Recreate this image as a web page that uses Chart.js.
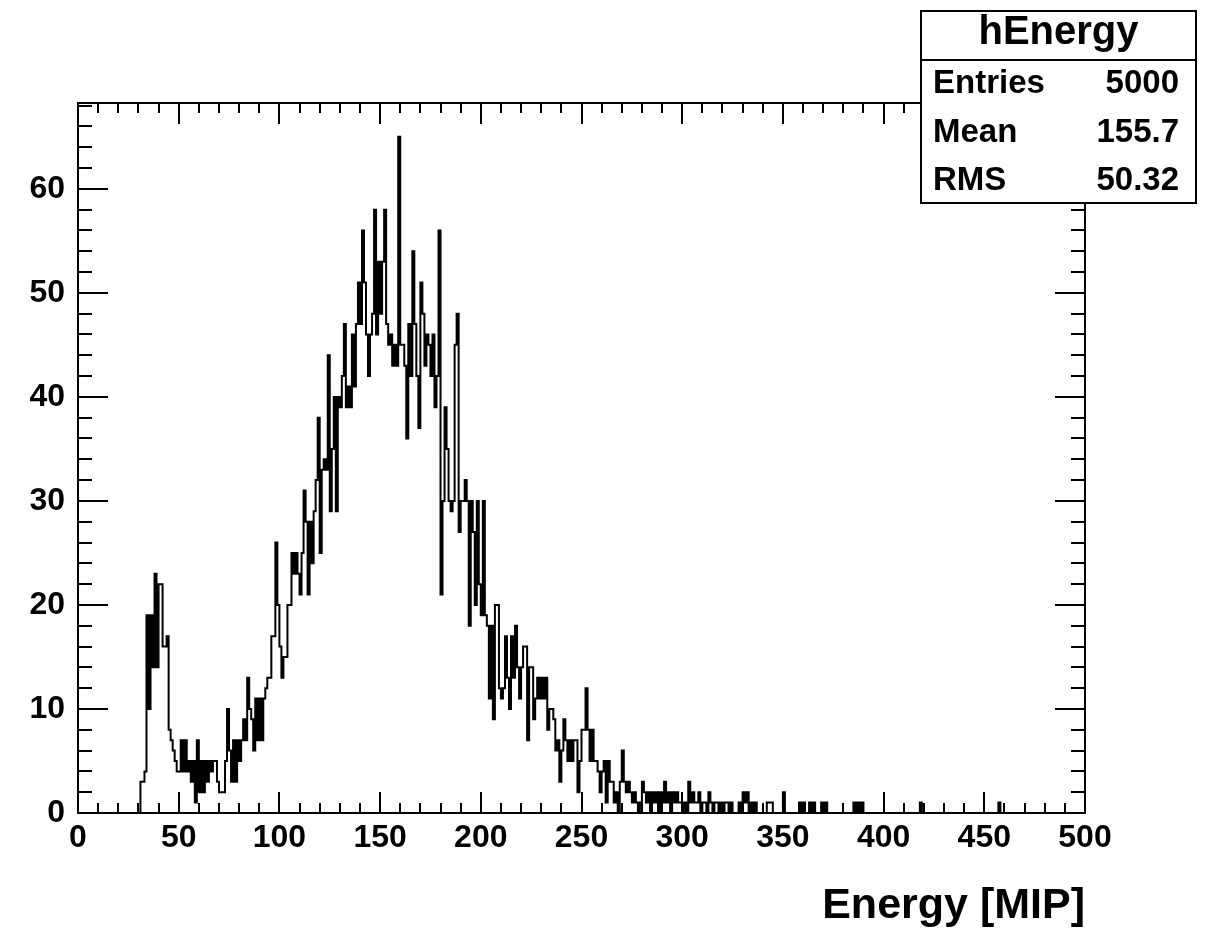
<!DOCTYPE html>
<html>
<head>
<meta charset="utf-8">
<title>hEnergy</title>
<script src="https://cdn.jsdelivr.net/npm/chart.js@4.4.1/dist/chart.umd.min.js"></script>
<style>
    html, body { margin: 0; padding: 0; background: #fff; }
    #wrap { position: relative; width: 1206px; height: 933px; }
</style>
</head>
<body>
<div id="wrap"><canvas id="energyChart"></canvas></div>
<script>
// bin contents of hEnergy, 500 bins of width 1 MIP (0..500)
const binCounts = [
    0, 0, 0, 0, 0, 0, 0, 0, 0, 0,   0, 0, 0, 0, 0, 0, 0, 0, 0, 0,
    0, 0, 0, 0, 0, 0, 0, 0, 0, 0,   0, 0, 3, 3, 4, 19, 10, 19, 14, 23,
    14, 22, 22, 16, 16, 17, 8, 7, 6, 5,   4, 4, 7, 4, 7, 4, 5, 3, 5, 1,
    7, 2, 5, 2, 5, 3, 5, 4, 5, 5,   3, 2, 2, 2, 5, 10, 6, 3, 7, 3,
    7, 5, 7, 9, 7, 13, 10, 9, 6, 11,   7, 11, 7, 11, 12, 13, 13, 17, 17, 26,
    20, 16, 13, 15, 15, 20, 20, 25, 23, 25,   23, 21, 25, 31, 28, 21, 28, 24, 29, 32,
    38, 25, 33, 34, 33, 44, 29, 35, 40, 29,   40, 39, 42, 47, 39, 41, 39, 46, 41, 47,
    51, 47, 56, 51, 46, 42, 46, 48, 58, 46,   53, 48, 53, 58, 47, 45, 46, 43, 45, 43,
    65, 45, 45, 43, 36, 47, 42, 54, 47, 42,   37, 51, 48, 43, 46, 45, 42, 46, 39, 42,
    56, 21, 30, 39, 35, 30, 29, 30, 45, 48,   27, 30, 30, 32, 30, 18, 30, 27, 20, 30,
    22, 19, 30, 19, 18, 11, 18, 9, 20, 20,   12, 11, 12, 17, 13, 10, 17, 13, 18, 14,
    11, 14, 16, 16, 7, 14, 14, 9, 11, 13,   11, 13, 11, 13, 8, 10, 10, 9, 6, 7,
    3, 6, 9, 7, 5, 7, 5, 7, 7, 2,   5, 8, 8, 12, 8, 5, 8, 5, 5, 4,
    2, 4, 5, 1, 5, 3, 3, 1, 2, 0,   3, 6, 3, 2, 3, 2, 1, 2, 1, 0,
    1, 3, 2, 1, 2, 0, 2, 1, 2, 0,   2, 1, 3, 1, 2, 0, 2, 1, 2, 1,
    1, 0, 1, 0, 3, 1, 2, 1, 1, 2,   0, 1, 1, 0, 2, 1, 0, 1, 1, 0,
    1, 0, 1, 1, 0, 1, 0, 0, 0, 1,   0, 2, 1, 2, 0, 1, 0, 1, 0, 0,
    0, 0, 0, 1, 1, 1, 0, 0, 0, 0,   0, 2, 0, 0, 0, 0, 0, 0, 0, 1,
    0, 1, 0, 0, 1, 0, 1, 0, 0, 0,   1, 0, 1, 0, 0, 0, 0, 0, 0, 0,
    0, 0, 0, 0, 0, 0, 1, 0, 1, 0,   1, 0, 0, 0, 0, 0, 0, 0, 0, 0,
    0, 0, 0, 0, 0, 0, 0, 0, 0, 0,   0, 0, 0, 0, 0, 0, 0, 0, 0, 1,
    0, 0, 0, 0, 0, 0, 0, 0, 0, 0,   0, 0, 0, 0, 0, 0, 0, 0, 0, 0,
    0, 0, 0, 0, 0, 0, 0, 0, 0, 0,   0, 0, 0, 0, 0, 0, 0, 0, 1, 0,
    0, 0, 0, 0, 0, 0, 0, 0, 0, 0,   0, 0, 0, 0, 0, 0, 0, 0, 0, 0,
    0, 0, 0, 0, 0, 0, 0, 0, 0, 0,   0, 0, 0, 0, 0, 0, 0, 0, 0, 0
];
const binWidth = 1;

const xTickLabels = [0, 50, 100, 150, 200, 250, 300, 350, 400, 450, 500];
const yTickLabels = [0, 10, 20, 30, 40, 50, 60];
const xTitle = 'Energy [MIP]';

const statsTitle = 'hEnergy';
const statsNames = ['Entries', 'Mean', 'RMS'];
const statsValues = ['5000', '155.7', '50.32'];

const FONT = "'Liberation Sans', Arial, Helvetica, sans-serif";
let energyChart;

// frame, inward ticks on all four sides and the stats box, ROOT style
const rootFrame = {
    id: 'rootFrame',
    afterDatasetsDraw(chart) {
        const { ctx, chartArea: a, scales: { x, y } } = chart;
        ctx.save();
        ctx.strokeStyle = '#000';
        ctx.lineWidth = 2;
        ctx.strokeRect(a.left, a.top, a.right - a.left, a.bottom - a.top);

        ctx.beginPath();
        for (let v = x.min; v <= x.max; v += 10) {
            const px = Math.round(x.getPixelForValue(v));
            const len = v % 50 === 0 ? 21 : 10;
            ctx.moveTo(px, a.bottom); ctx.lineTo(px, a.bottom - len);
            ctx.moveTo(px, a.top); ctx.lineTo(px, a.top + len);
        }
        for (let v = 0; v <= y.max; v += 2) {
            const py = Math.round(y.getPixelForValue(v));
            const len = v % 10 === 0 ? 30 : 14;
            ctx.moveTo(a.left, py); ctx.lineTo(a.left + len, py);
            ctx.moveTo(a.right, py); ctx.lineTo(a.right - len, py);
        }
        ctx.stroke();

        // stats box
        const bx = 921, by = 11, bw = 275, bh = 192, sep = 60;
        ctx.fillStyle = '#fff';
        ctx.fillRect(bx, by, bw, bh);
        ctx.lineWidth = 2;
        ctx.strokeRect(bx, by, bw, bh);
        ctx.beginPath();
        ctx.moveTo(bx, sep); ctx.lineTo(bx + bw, sep);
        ctx.stroke();

        ctx.fillStyle = '#000';
        ctx.textBaseline = 'alphabetic';
        ctx.font = 'bold 40px ' + FONT;
        ctx.textAlign = 'center';
        ctx.fillText(statsTitle, bx + bw / 2, 44);

        ctx.font = 'bold 33px ' + FONT;
        statsNames.forEach((name, i) => {
            const base = 93 + i * 48.5;
            ctx.textAlign = 'left';
            ctx.fillText(name, 933, base);
            ctx.textAlign = 'right';
            ctx.fillText(statsValues[i], 1179, base);
        });
        ctx.restore();
    }
};

function histPoints() {
    const pts = binCounts.map((c, i) => ({ x: i * binWidth, y: c }));
    pts.push({ x: binCounts.length * binWidth, y: binCounts[binCounts.length - 1] });
    return pts;
}

function createChart() {
    const ctx = document.getElementById('energyChart').getContext('2d');

    energyChart = new Chart(ctx, {
        type: 'line',
        data: {
            datasets: [
                {
                    label: 'hEnergy',
                    data: histPoints(),
                    stepped: 'after',
                    borderColor: '#000',
                    borderWidth: 2,
                    pointRadius: 0,
                    fill: false
                }
            ]
        },
        options: {
            responsive: true,
            maintainAspectRatio: false,
            animation: false,
            events: [],
            layout: {
                padding: { left: 0, right: 121, top: 103, bottom: 0 }
            },
            plugins: {
                legend: { display: false },
                tooltip: { enabled: false }
            },
            scales: {
                x: {
                    type: 'linear',
                    min: 0,
                    max: 500,
                    grid: { display: false, drawTicks: false },
                    border: { display: false },
                    afterBuildTicks: scale => { scale.ticks = xTickLabels.map(v => ({ value: v })); },
                    afterFit: scale => { scale.height = 120; },
                    ticks: {
                        autoSkip: false,
                        maxRotation: 0,
                        padding: 6,
                        color: '#000',
                        font: { family: FONT, size: 32, weight: 'bold' }
                    },
                    title: {
                        display: true,
                        text: xTitle,
                        align: 'end',
                        color: '#000',
                        padding: { top: 0, bottom: 5 },
                        font: { family: FONT, size: 43, weight: 'bold', lineHeight: 1 }
                    }
                },
                y: {
                    min: 0,
                    max: 68.25,
                    grid: { display: false, drawTicks: false },
                    border: { display: false },
                    afterBuildTicks: scale => { scale.ticks = yTickLabels.map(v => ({ value: v })); },
                    afterFit: scale => { scale.width = 78; },
                    ticks: {
                        padding: 13,
                        color: '#000',
                        font: { family: FONT, size: 32, weight: 'bold' }
                    }
                }
            }
        },
        plugins: [rootFrame]
    });
}

window.onload = createChart;
</script>
</body>
</html>
